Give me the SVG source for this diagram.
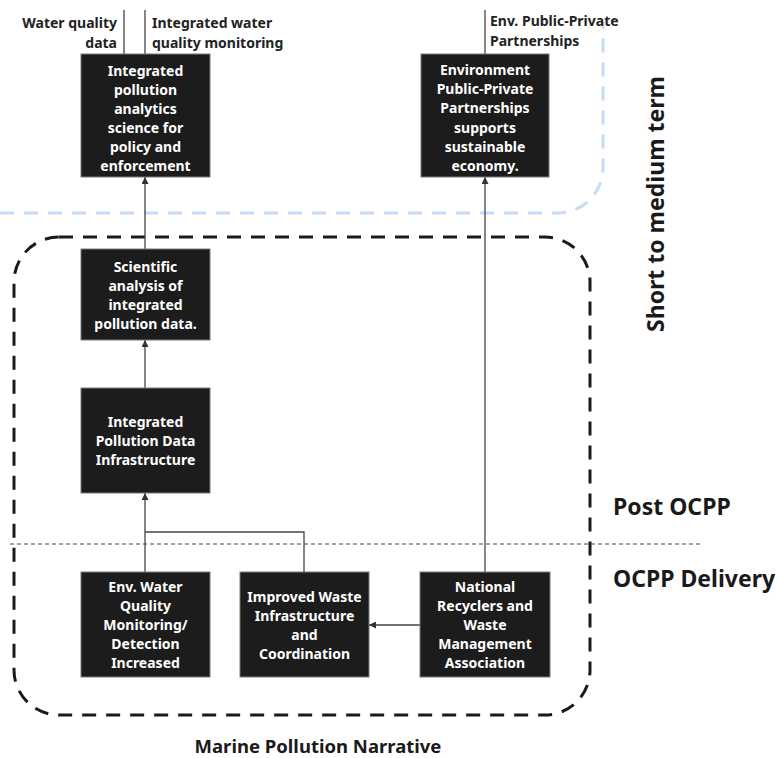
<svg xmlns="http://www.w3.org/2000/svg" width="777" height="758" viewBox="0 0 777 758">
  <style>
    .box { fill: #1c1c1c; stroke: #7a7a7a; stroke-width: 1; }
    .bt { fill: #ffffff; font-family: "Noto Sans", "Open Sans", sans-serif; font-size: 14px; font-weight: 700; text-anchor: middle; }
    .lbl { fill: #222222; font-family: "Noto Sans", "Open Sans", sans-serif; font-size: 14px; font-weight: 700; }
    .big { fill: #1a1a1a; font-family: "Noto Sans", "Open Sans", sans-serif; font-size: 23px; font-weight: 700; }
    .mid { fill: #1a1a1a; font-family: "Noto Sans", "Open Sans", sans-serif; font-size: 18.5px; font-weight: 700; text-anchor: middle; }
    .edge { fill: none; stroke: #444444; stroke-width: 1.3; }
  </style>
  <defs>
    <marker id="arr" viewBox="0 0 10 10" refX="10" refY="5" markerWidth="7" markerHeight="7" orient="auto-start-reverse" markerUnits="userSpaceOnUse">
      <path d="M0,0 L10,5 L0,10 z" fill="#333333"/>
    </marker>
  </defs>

  <!-- time horizon boundaries -->
  <g id="regions">
    <path d="M0,213 H558 A45,45 0 0 0 603,168 V22" fill="none" stroke="#c6dbf7" stroke-width="3" stroke-dasharray="14 10"/>
    <rect x="14" y="237" width="576" height="478" rx="45" ry="45" fill="none" stroke="#1a1a1a" stroke-width="3" stroke-dasharray="14 10"/>
    <line x1="10" y1="544" x2="700" y2="544" stroke="#444444" stroke-width="1" stroke-dasharray="4 3"/>
  </g>

  <!-- connectors -->
  <g id="connectors">
    <line class="edge" x1="124" y1="10" x2="124" y2="54"/>
    <line class="edge" x1="145" y1="10" x2="145" y2="54"/>
    <line class="edge" x1="485" y1="10" x2="485" y2="54"/>
    <line class="edge" x1="145" y1="249" x2="145" y2="177" marker-end="url(#arr)"/>
    <line class="edge" x1="145" y1="388" x2="145" y2="340" marker-end="url(#arr)"/>
    <line class="edge" x1="145" y1="572" x2="145" y2="493" marker-end="url(#arr)"/>
    <path class="edge" d="M304,572 V532 H145"/>
    <line class="edge" x1="485" y1="572" x2="485" y2="177" marker-end="url(#arr)"/>
    <line class="edge" x1="420" y1="625" x2="369" y2="625" marker-end="url(#arr)"/>
  </g>

  <!-- edge labels -->
  <g id="edge-labels">
    <text class="lbl" x="117" y="28" text-anchor="end">Water quality</text>
    <text class="lbl" x="117" y="48" text-anchor="end">data</text>
    <text class="lbl" x="152" y="28">Integrated water</text>
    <text class="lbl" x="152" y="48">quality monitoring</text>
    <text class="lbl" x="490" y="26">Env. Public-Private</text>
    <text class="lbl" x="490" y="46">Partnerships</text>
  </g>

  <g id="analytics">
    <rect class="box" x="81" y="54" width="129" height="123"/>
    <text class="bt" x="145.5" y="76">Integrated</text>
    <text class="bt" x="145.5" y="95">pollution</text>
    <text class="bt" x="145.5" y="114">analytics</text>
    <text class="bt" x="145.5" y="133">science for</text>
    <text class="bt" x="145.5" y="152">policy and</text>
    <text class="bt" x="145.5" y="171">enforcement</text>
  </g>

  <g id="ppp">
    <rect class="box" x="421" y="54" width="128" height="123"/>
    <text class="bt" x="485" y="75">Environment</text>
    <text class="bt" x="485" y="94">Public-Private</text>
    <text class="bt" x="485" y="113">Partnerships</text>
    <text class="bt" x="485" y="133">supports</text>
    <text class="bt" x="485" y="152">sustainable</text>
    <text class="bt" x="485" y="171">economy.</text>
  </g>

  <g id="analysis">
    <rect class="box" x="81" y="249" width="129" height="91"/>
    <text class="bt" x="145.5" y="272">Scientific</text>
    <text class="bt" x="145.5" y="291">analysis of</text>
    <text class="bt" x="145.5" y="310">integrated</text>
    <text class="bt" x="145.5" y="329">pollution data.</text>
  </g>

  <g id="infrastructure">
    <rect class="box" x="81" y="388" width="129" height="105"/>
    <text class="bt" x="145.5" y="427">Integrated</text>
    <text class="bt" x="145.5" y="446">Pollution Data</text>
    <text class="bt" x="145.5" y="465">Infrastructure</text>
  </g>

  <g id="monitoring">
    <rect class="box" x="81" y="572" width="129" height="105"/>
    <text class="bt" x="145.5" y="592">Env. Water</text>
    <text class="bt" x="145.5" y="611">Quality</text>
    <text class="bt" x="145.5" y="630">Monitoring/</text>
    <text class="bt" x="145.5" y="649">Detection</text>
    <text class="bt" x="145.5" y="668">Increased</text>
  </g>

  <g id="waste">
    <rect class="box" x="240" y="572" width="129" height="105"/>
    <text class="bt" x="304.5" y="602">Improved Waste</text>
    <text class="bt" x="304.5" y="621">Infrastructure</text>
    <text class="bt" x="304.5" y="640">and</text>
    <text class="bt" x="304.5" y="659">Coordination</text>
  </g>

  <g id="recyclers">
    <rect class="box" x="420" y="572" width="130" height="105"/>
    <text class="bt" x="485" y="592">National</text>
    <text class="bt" x="485" y="611">Recyclers and</text>
    <text class="bt" x="485" y="630">Waste</text>
    <text class="bt" x="485" y="649">Management</text>
    <text class="bt" x="485" y="668">Association</text>
  </g>

  <!-- stage titles -->
  <g id="titles">
    <text class="big" x="613" y="515">Post OCPP</text>
    <text class="big" x="613" y="587">OCPP Delivery</text>
    <text class="big" transform="translate(664,204) rotate(-90)" text-anchor="middle">Short to medium term</text>
    <text class="mid" x="318" y="753">Marine Pollution Narrative</text>
  </g>
</svg>
